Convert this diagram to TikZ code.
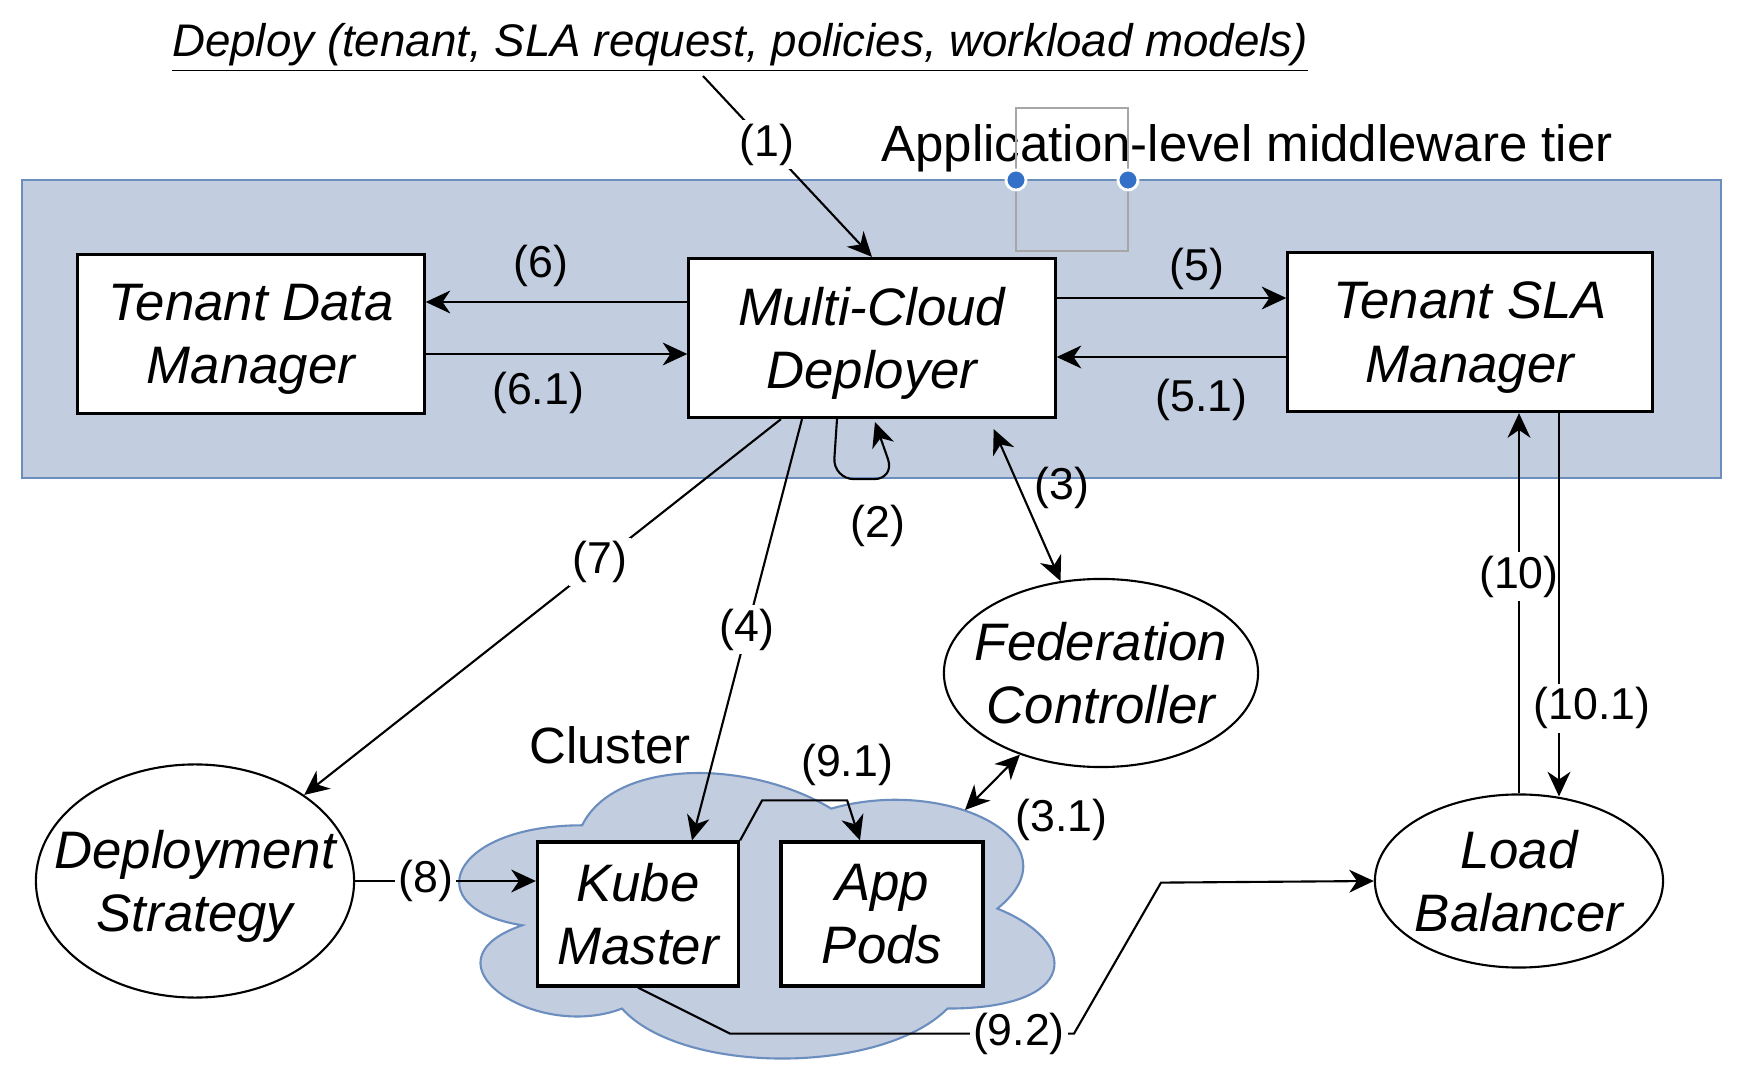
\documentclass[tikz,border=0pt]{standalone}
\usepackage{fontspec}
\setmainfont{Liberation Sans}
\usetikzlibrary{arrows.meta,calc,shapes.geometric}
\definecolor{tierfill}{RGB}{194,205,224}
\definecolor{tierline}{RGB}{108,142,191}
\definecolor{handle}{RGB}{52,112,200}

\begin{document}
\begin{tikzpicture}[x=0.01cm,y=-0.01cm,
  >={Stealth[length=7pt,width=6.5pt,inset=2.2pt]},
  box/.style={draw,line width=0.9pt,fill=white,align=center,inner sep=0pt,text depth=0pt,
    font=\fontsize{15}{18}\selectfont\itshape},
  oval/.style={ellipse,draw,line width=0.6pt,fill=white,align=center,
    inner xsep=-2cm,inner ysep=-1cm,text depth=0pt,
    font=\fontsize{15}{18}\selectfont\itshape},
  lbl/.style={font=\fontsize{12.7}{15}\selectfont,inner sep=1pt},
  cut/.style={lbl,fill=white},
  flow/.style={->,line width=0.6pt},
  both/.style={<->,line width=0.6pt},
  region/.style={font=\fontsize{14.5}{17}\selectfont}]

  \useasboundingbox (0,0) rectangle (1756,1070);

  % middleware tier and cluster
  \draw[tierline,fill=tierfill,line width=0.8pt] (22,180) rectangle (1721,478);
  \begin{scope}[shift={(416,742)},x=6.64cm,y=-3.33cm]
    \draw[tierline,fill=tierfill,line width=0.6pt]
      (.25,.25) .. controls (.05,.25) and (0,.5) .. (.16,.55)
      .. controls (0,.66) and (.18,.9) .. (.31,.8)
      .. controls (.4,1) and (.7,1) .. (.8,.8)
      .. controls (1,.8) and (1,.6) .. (.875,.5)
      .. controls (1,.3) and (.8,.1) .. (.625,.2)
      .. controls (.5,.05) and (.3,.05) .. (.25,.25) -- cycle;
  \end{scope}

  \node[font=\fontsize{13}{15}\selectfont\itshape] (title) at (740,48)
    {\underline{Deploy (tenant, SLA request, policies, workload models)}};
  \node[region] (tiername) at (1247,148) {Application-level middleware tier};
  \node[region] (cluster) at (610,745) {Cluster};

  \node[box,minimum width=3.46cm,minimum height=1.59cm] (tdm) at (251,334) {Tenant Data\\Manager};
  \node[box,minimum width=3.66cm,minimum height=1.59cm] (mcd) at (872,338) {Multi-Cloud\\Deployer};
  \node[box,minimum width=3.64cm,minimum height=1.59cm] (tsm) at (1470,332) {Tenant SLA\\Manager};
  \node[oval,minimum width=3.18cm,minimum height=2.33cm] (ds) at (195,881) {Deployment\\Strategy};
  \node[oval,minimum width=3.14cm,minimum height=1.88cm] (fed) at (1101,673) {Federation\\Controller};
  \node[oval,minimum width=2.88cm,minimum height=1.73cm] (lb) at (1519,881) {Load\\Balancer};
  \node[box,minimum width=2.01cm,minimum height=1.44cm] (km) at (638,914) {Kube\\Master};
  \node[box,minimum width=2.02cm,minimum height=1.44cm] (ap) at (882,914) {App\\Pods};

  \coordinate (src) at (703,76);
  \coordinate (cloudtop) at (965,810);

  \draw[flow] (src) -- node[cut,pos=.38]{(1)} (mcd.north);
  \draw[flow] ($(mcd.west)+(0,-36)$) -- node[lbl,pos=.56,above=3pt]{(6)} ($(tdm.east)+(0,-32)$);
  \draw[flow] ($(tdm.east)+(0,20)$) -- node[lbl,pos=.43,below=4pt]{(6.1)} ($(mcd.west)+(0,16)$);
  \draw[flow] ($(mcd.east)+(0,-40)$) -- node[lbl,pos=.61,above=1pt]{(5)} ($(tsm.west)+(0,-34)$);
  \draw[flow] ($(tsm.west)+(0,25)$) -- node[lbl,pos=.37,below=5pt]{(5.1)} ($(mcd.east)+(0,19)$);
  \draw[flow,rounded corners=6pt] ($(mcd.south)+(-35,0)$) -- ++(-4,60)
    -- node[lbl,below=6pt,xshift=.14cm]{(2)} ++(62,0) -- ($(mcd.south)+(3,3)$);
  \draw[both] ($(mcd.south east)+(-63,10)$) -- node[lbl,pos=.39,right=3pt]{(3)} (fed);
  \draw[both] (cloudtop) -- node[lbl,pos=0,anchor=west,xshift=.46cm,yshift=-.1cm]{(3.1)} (fed);
  \draw[flow] ($(mcd.south)+(-91,0)$) -- node[cut,pos=.38]{(7)} (ds);
  \draw[flow] ($(mcd.south)+(-70,0)$) -- node[cut]{(4)} ($(km.north)+(54,0)$);
  \draw[flow] (ds.east) -- node[cut,pos=.39]{(8)} (ds.east -| km.west);
  \draw[flow] (km.north east) -- ++(22,-40) -- ++(85,0) node[lbl,above=3pt]{(9.1)}
    -- ($(ap.north)+(-22,0)$);
  \draw[flow] (km.south) -- ++(92,46) -- ++(344,0) node[cut,pos=.84]{(9.2)}
    -- ++(87,-151) -- (lb.west);
  \draw[flow] (lb.north) -- node[cut,pos=.57]{(10)} (lb.north |- tsm.south);
  \draw[flow] ($(tsm.south)+(89,0)$) -- node[cut,pos=.77,xshift=.33cm]{(10.1)} ($(lb.north)+(40,3)$);

  % selection handles
  \draw[gray!70,line width=0.4pt] (1016,108) rectangle (1128,251);
  \filldraw[handle,draw=white,line width=0.8pt] (1016,180) circle[radius=0.1cm]
    (1128,180) circle[radius=0.1cm];
\end{tikzpicture}
\end{document}
